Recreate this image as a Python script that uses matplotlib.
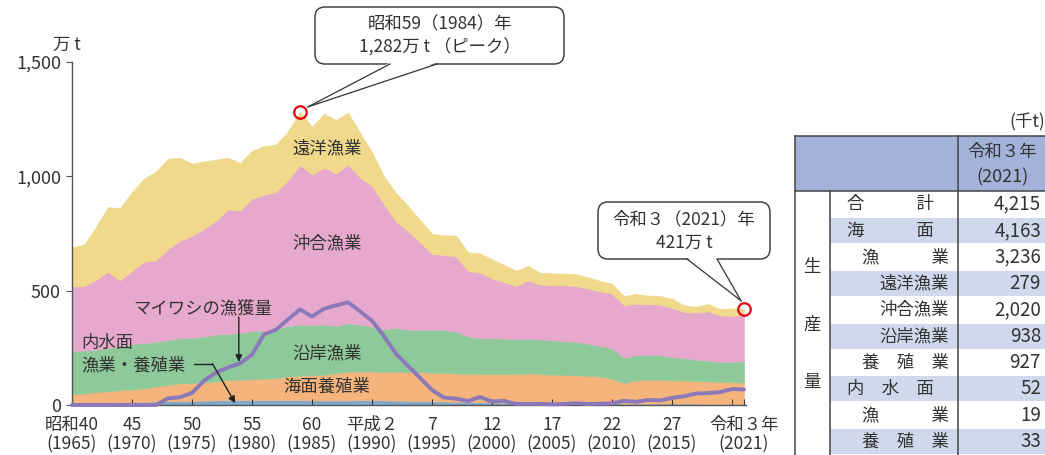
import numpy as np
import matplotlib
matplotlib.use("Agg")
import matplotlib.pyplot as plt
from matplotlib.patches import FancyBboxPatch, Polygon, Rectangle

plt.rcParams['font.family'] = ['Noto Sans CJK JP', 'DejaVu Sans']

# 万t, 1965-2021
years = list(range(1965, 2022))
inland = [10, 10, 11, 11, 12, 13, 14, 15, 16, 17, 18, 19, 20, 21, 21, 21, 21, 21, 21, 21,
          20, 20, 20, 20, 21, 21, 20, 19, 18, 17, 16, 15, 14, 13, 12, 11, 10, 10, 9, 9,
          8, 8, 8, 7, 7, 7, 6, 6, 6, 6, 6, 6, 6, 5, 5, 5, 5]
aqua = [38, 40, 46, 49, 53, 55, 59, 66, 72, 78, 77, 79, 83, 89, 89, 92, 94, 96, 104, 107,
        110, 112, 118, 126, 125, 125, 124, 127, 126, 127, 125, 125, 124, 124, 123, 124, 125, 125, 129, 126,
        125, 124, 122, 121, 117, 108, 90, 102, 104, 104, 102, 102, 99, 98, 95, 95, 93]
coastal = [187, 188, 185, 189, 192, 199, 198, 195, 195, 198, 198, 202, 205, 201, 205, 210, 208, 216, 220, 224,
           220, 220, 207, 211, 206, 197, 187, 192, 184, 184, 187, 188, 183, 162, 157, 157, 155, 154, 152, 152,
           150, 147, 146, 140, 134, 134, 110, 109, 110, 107, 102, 98, 93, 92, 88, 88, 94]
offshore = [283, 282, 305, 333, 288, 320, 355, 357, 399, 425, 447, 470, 498, 544, 535, 579, 596, 598, 637, 698,
            658, 686, 667, 695, 643, 615, 547, 464, 432, 384, 332, 328, 329, 287, 287, 261, 248, 231, 255, 240,
            240, 244, 244, 241, 239, 238, 230, 226, 221, 222, 214, 201, 206, 215, 204, 201, 202]
distant = [172, 180, 233, 283, 317, 344, 364, 388, 395, 363, 315, 296, 267, 227, 209, 210, 213, 208, 215, 232,
           209, 236, 235, 227, 196, 147, 122, 125, 111, 98, 89, 86, 91, 82, 84, 85, 75, 68, 63, 51,
           53, 52, 52, 50, 46, 44, 41, 42, 38, 38, 41, 29, 26, 32, 28, 34, 27]
sardine = [0, 0, 0, 0, 0, 0, 0, 0, 29, 34, 53, 106, 142, 164, 182, 220, 309, 329, 374, 418,
           387, 421, 436, 449, 410, 368, 301, 224, 171, 119, 66, 32, 28, 17, 35, 15, 18, 5, 5, 5,
           3, 5, 8, 4, 6, 7, 18, 14, 22, 20, 31, 38, 50, 52, 56, 70, 68]

layer_names = ["内水面", "海面養殖業", "沿岸漁業", "沖合漁業", "遠洋漁業"]
layer_colors = ["#7fa9cc", "#f4b47c", "#8ec99a", "#e6a8cc", "#f0d98a"]

tick_years = [1965, 1970, 1975, 1980, 1985, 1990, 1995, 2000, 2005, 2010, 2015, 2021]
tick_labels = ["昭和40\n(1965)", "45\n(1970)", "50\n(1975)", "55\n(1980)", "60\n(1985)",
               "平成２\n(1990)", "7\n(1995)", "12\n(2000)", "17\n(2005)", "22\n(2010)",
               "27\n(2015)", "令和３年\n(2021)"]

# 表（令和3年, 千t）
row_labels = ["合　　　計", "海　　　面", "漁　　　業", "遠洋漁業", "沖合漁業", "沿岸漁業",
              "養　殖　業", "内　水　面", "漁　　　業", "養　殖　業"]
row_values = ["4,215", "4,163", "3,236", "279", "2,020", "938", "927", "52", "19", "33"]

W, H = 1045, 455
fig = plt.figure(figsize=(W / 100, H / 100), dpi=100)
ax = fig.add_axes([72 / W, 1 - 405 / H, 674.4 / W, 343 / H])

data = np.array([inland, aqua, coastal, offshore, distant], dtype=float)
tops = np.cumsum(data, axis=0)
bottom = np.zeros(len(years))
for top, c in zip(tops, layer_colors):
    ax.fill_between(years, bottom, top, facecolor=c, edgecolor=c, lw=0.4, zorder=1)
    bottom = top
total = tops[-1]

ax.plot(years, sardine, color="#8a78bb", lw=2.8, solid_joinstyle="round",
        solid_capstyle="round", zorder=3, clip_on=False)

ax.set_xlim(1965, 2021.2)
ax.set_ylim(0, 1500)
for s in ["top", "right"]:
    ax.spines[s].set_visible(False)
for s in ["left", "bottom"]:
    ax.spines[s].set_color("#555555")
    ax.spines[s].set_linewidth(1)
ax.set_yticks([0, 500, 1000, 1500])
ax.set_yticklabels(["0", "500", "1,000", "1,500"])
ax.set_xticks(tick_years)
ax.set_xticklabels(tick_labels, linespacing=1.1)
ax.set_xticks([2020], minor=True)
ax.tick_params(axis="y", direction="out", length=4, color="#555555", labelsize=13,
               labelcolor="#333333", pad=4)
ax.tick_params(axis="x", which="both", direction="in", length=4, color="#333333",
               labelsize=12.5, labelcolor="#333333", pad=8)
ax.set_facecolor("none")

txt = dict(ha="center", va="center", fontsize=12.5, color="#333333", zorder=4)
ax.text(1986.25, 1124, "遠洋漁業", **txt)
ax.text(1986.25, 708, "沖合漁業", **txt)
ax.text(1986.25, 227, "沿岸漁業", **txt)
ax.text(1986.25, 79, "海面養殖業", **txt)
ax.text(1975.9, 424, "マイワシの漁獲量", **txt)
ax.text(1965.8, 271, "内水面", ha="left", va="center", fontsize=12.5, color="#333333", zorder=4)
ax.text(1965.8, 175, "漁業・養殖業", ha="left", va="center", fontsize=12.5, color="#333333", zorder=4)

arrow = dict(arrowstyle="-|>", color="#222222", lw=1, mutation_scale=10, shrinkA=0, shrinkB=0)
ax.annotate("", xy=(1978.9, 188), xytext=(1978.9, 385), arrowprops=arrow, zorder=5)
ax.plot([1975.2, 1976.7], [181, 181], color="#222222", lw=1, zorder=5)
ax.annotate("", xy=(1978.6, 8), xytext=(1976.7, 181), arrowprops=arrow, zorder=5)

# red markers at peak and latest year
ipk = int(np.argmax(total))
for i in [ipk, len(years) - 1]:
    ax.plot(years[i], total[i], "o", ms=9, mfc="none", mec="#e60012", mew=1.6,
            clip_on=False, zorder=6)

# overlay in pixel coordinates
ov = fig.add_axes([0, 0, 1, 1])
ov.set_xlim(0, W)
ov.set_ylim(H, 0)
ov.axis("off")


def to_px(x, y):
    dx, dy = ax.transData.transform((x, y))
    return dx, H - dy


def callout(x0, y0, x1, y1, bx0, bx1, tip, lines):
    ov.add_patch(FancyBboxPatch((x0, y0), x1 - x0, y1 - y0,
                                boxstyle="round,pad=0,rounding_size=10",
                                fc="white", ec="#333333", lw=1, zorder=5))
    ov.add_patch(Polygon([(bx0, y1 - 1.5), (bx1, y1 - 1.5), tip], closed=True,
                         fc="white", ec="none", zorder=6))
    ov.plot([bx0, tip[0]], [y1, tip[1]], color="#333333", lw=0.9, zorder=7)
    ov.plot([bx1, tip[0]], [y1, tip[1]], color="#333333", lw=0.9, zorder=7)
    cy = (y0 + y1) / 2
    ov.text((x0 + x1) / 2, cy - 11, lines[0], ha="center", va="center", fontsize=12.5,
            color="#333333", zorder=8)
    ov.text((x0 + x1) / 2, cy + 12, lines[1], ha="center", va="center", fontsize=12.5,
            color="#333333", zorder=8)


px, py = to_px(years[ipk], total[ipk])
callout(315, 7, 564, 64, 390, 437, (px + 8, py - 5),
        ["昭和59（1984）年", "1,282万 t （ピーク）"])
px, py = to_px(years[-1], total[-1])
callout(598, 202, 770, 259, 687, 717, (px - 3, py - 8),
        ["令和３（2021）年", "421万 t"])

ov.text(67, 45, "万 t", ha="center", va="center", fontsize=12.5, color="#333333")

# table
line = dict(color="#444444", lw=1.1, zorder=3)
ov.add_patch(Rectangle((795, 136), 250, 55, fc="#a3b2d9", ec="none", zorder=1))
rh = 26.4
for i in range(len(row_labels)):
    y = 191 + i * rh
    if i % 2 == 1:
        ov.add_patch(Rectangle((830, y + 0.7), 215, rh - 1.4, fc="#d0d8ec", ec="none", zorder=1))
    cy = y + rh / 2
    if i in (0, 1, 7):
        ov.text(847, cy, row_labels[i], ha="left", va="center", fontsize=12.5, color="#333333")
    else:
        ov.text(949, cy, row_labels[i], ha="right", va="center", fontsize=12.5, color="#333333")
    ov.text(1041, cy, row_values[i], ha="right", va="center", fontsize=13.5, color="#333333")
ov.plot([795, 1045], [136, 136], **line)
ov.plot([795, 1045], [191, 191], **line)
ov.plot([795, 795], [136, 455], **line)
ov.plot([830, 830], [191, 455], **line)
ov.plot([958, 958], [136, 455], **line)
ov.text(1002, 152, "令和３年", ha="center", va="center", fontsize=12.5, color="#333333")
ov.text(1003, 177, "(2021)", ha="center", va="center", fontsize=13, color="#333333")
ov.text(1045, 122, "(千t)", ha="right", va="center", fontsize=12.5, color="#333333")
for ch, y in zip("生産量", [267, 325, 382]):
    ov.text(812, y, ch, ha="center", va="center", fontsize=12.5, color="#333333")

fig.savefig("out.png", dpi=100)
